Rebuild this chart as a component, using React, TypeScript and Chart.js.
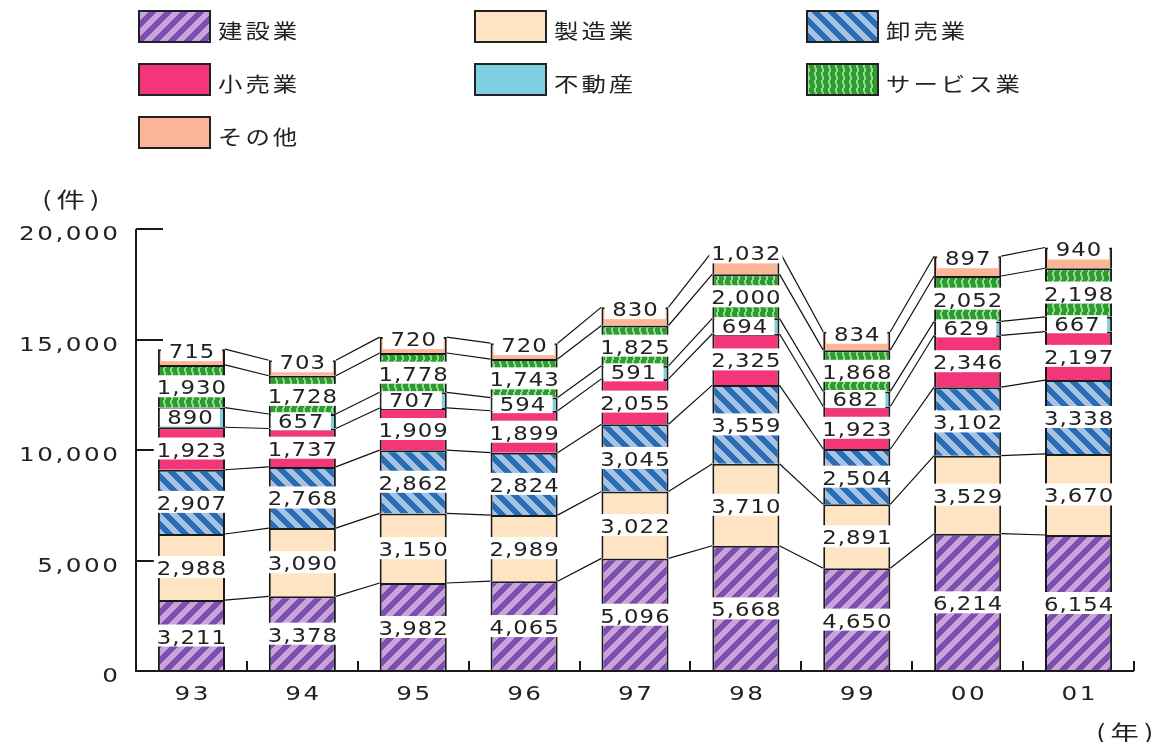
import React, { useEffect, useRef } from "react";
import { Chart, registerables } from "chart.js";
Chart.register(...registerables);

const years = ["93", "94", "95", "96", "97", "98", "99", "00", "01"];
const seriesNames = ["建設業", "製造業", "卸売業", "小売業", "不動産", "サービス業", "その他"];
const construction = [3211, 3378, 3982, 4065, 5096, 5668, 4650, 6214, 6154];
const manufacturing = [2988, 3090, 3150, 2989, 3022, 3710, 2891, 3529, 3670];
const wholesale = [2907, 2768, 2862, 2824, 3045, 3559, 2504, 3102, 3338];
const retail = [1923, 1737, 1909, 1899, 2055, 2325, 1923, 2346, 2197];
const realEstate = [890, 657, 707, 594, 591, 694, 682, 629, 667];
const services = [1930, 1728, 1778, 1743, 1825, 2000, 1868, 2052, 2198];
const others = [715, 703, 720, 720, 830, 1032, 834, 897, 940];
const yTicks = [0, 5000, 10000, 15000, 20000];
const yUnit = "(件)";
const xUnit = "(年)";

const NUM_FONT = "19px 'DejaVu Sans'";
const JP_FONT = "20px 'Noto Sans CJK JP'";
const UNIT_FONT = "21px 'Noto Sans CJK JP'";
const INK = "#222";

function makeTile(w: number, h: number, fn: (x: number, y: number) => string) {
  const c = document.createElement("canvas");
  c.width = w;
  c.height = h;
  const g = c.getContext("2d")!;
  for (let y = 0; y < h; y++) {
    for (let x = 0; x < w; x++) {
      g.fillStyle = fn(x, y);
      g.fillRect(x, y, 1, 1);
    }
  }
  return g.createPattern(c, "repeat")!;
}

function stripes(dark: string, light: string, dir: number) {
  const P = 16;
  return makeTile(P, P, (x, y) => {
    const v = dir > 0 ? (x + y) % P : (((x - y) % P) + P) % P;
    return v < P / 2 ? dark : light;
  });
}

function squiggle(dark: string, light: string) {
  return makeTile(7, 8, (x, y) => {
    const off = y < 4 ? 2 : 3;
    return x === off || x === off + 1 ? light : dark;
  });
}

function measureWide(ctx: CanvasRenderingContext2D, text: string, font: string, sx: number, sp: number) {
  ctx.save();
  ctx.font = font;
  const chars = Array.from(text);
  let t = 0;
  chars.forEach((ch, i) => {
    t += ctx.measureText(ch).width * sx + (i < chars.length - 1 ? sp : 0);
  });
  ctx.restore();
  return t;
}

function drawWide(
  ctx: CanvasRenderingContext2D,
  text: string,
  x: number,
  cy: number,
  font: string,
  sx: number,
  sp: number,
  align: "left" | "center" | "right",
  baseOff: number
) {
  ctx.save();
  ctx.font = font;
  ctx.fillStyle = INK;
  ctx.textBaseline = "alphabetic";
  ctx.textAlign = "left";
  const chars = Array.from(text);
  const ws = chars.map((ch) => ctx.measureText(ch).width * sx);
  const total = ws.reduce((a, b) => a + b, 0) + sp * (chars.length - 1);
  let cx = align === "left" ? x : align === "center" ? x - total / 2 : x - total;
  chars.forEach((ch, i) => {
    ctx.save();
    ctx.translate(cx, cy + baseOff);
    ctx.scale(sx, 1);
    ctx.fillText(ch, 0, 0);
    ctx.restore();
    cx += ws[i] + sp;
  });
  ctx.restore();
  return total;
}

const fmt = (v: number) => v.toLocaleString("en-US");

const decorPlugin = {
  id: "decor",
  beforeDatasetsDraw(chart: any) {
    const ctx: CanvasRenderingContext2D = chart.ctx;
    const y = chart.scales.y;
    const left = chart.chartArea.left;
    ctx.save();
    ctx.strokeStyle = "#1a1a1a";
    ctx.lineWidth = 2;
    yTicks.forEach((t) => {
      const py = Math.round(y.getPixelForValue(t));
      ctx.beginPath();
      ctx.moveTo(left, py);
      ctx.lineTo(left + 27, py);
      ctx.stroke();
    });
    ctx.restore();
  },
  afterDatasetsDraw(chart: any) {
    const ctx: CanvasRenderingContext2D = chart.ctx;
    const ys = chart.scales.y;
    const xs = chart.scales.x;
    const area = chart.chartArea;
    const metas = chart.data.datasets.map((_: any, i: number) => chart.getDatasetMeta(i));

    // connectors
    ctx.save();
    ctx.strokeStyle = "#111";
    ctx.lineWidth = 1.2;
    metas.forEach((m: any) => {
      for (let j = 0; j < m.data.length - 1; j++) {
        const a = m.data[j];
        const b = m.data[j + 1];
        ctx.beginPath();
        ctx.moveTo(a.x + a.width / 2, a.y);
        ctx.lineTo(b.x - b.width / 2, b.y);
        ctx.stroke();
      }
    });
    ctx.restore();

    // value labels
    metas.forEach((m: any, i: number) => {
      const vals = chart.data.datasets[i].data;
      m.data.forEach((el: any, j: number) => {
        const l = el.x - el.width / 2;
        const r = el.x + el.width / 2;
        const top = el.y;
        const bot = el.base;
        const txt = fmt(vals[j]);
        const tw = measureWide(ctx, txt, NUM_FONT, 1.2, 1);
        let bx0: number, bx1: number, by0: number, by1: number, tx: number, ty: number;
        if (i === 6) {
          const w = Math.max(el.width - 6, tw + 4);
          bx0 = el.x - w / 2;
          bx1 = el.x + w / 2;
          by0 = top - 8;
          by1 = top + 12;
          tx = el.x;
          ty = top + 2;
        } else if (i === 4) {
          const mid = (top + bot) / 2;
          bx0 = l + 2;
          bx1 = r - 5;
          by0 = mid - 9;
          by1 = mid + 9;
          tx = (bx0 + bx1) / 2;
          ty = mid;
        } else {
          const mid = (top + bot) / 2;
          const w = Math.max(tw + 6, el.width + 4);
          bx0 = el.x - w / 2;
          bx1 = el.x + w / 2;
          by0 = mid - 11;
          by1 = mid + 11;
          tx = el.x;
          ty = mid + 1;
        }
        ctx.save();
        ctx.fillStyle = "#ffffff";
        ctx.fillRect(bx0, by0, bx1 - bx0, by1 - by0);
        ctx.restore();
        drawWide(ctx, txt, tx, ty, NUM_FONT, 1.2, 1, "center", 7);
      });
    });

    // axes
    ctx.save();
    ctx.strokeStyle = "#1a1a1a";
    ctx.lineWidth = 2;
    ctx.beginPath();
    ctx.moveTo(area.left, Math.round(ys.getPixelForValue(20000)));
    ctx.lineTo(area.left, area.bottom);
    ctx.lineTo(area.right, area.bottom);
    ctx.stroke();
    const cw = (area.right - area.left) / years.length;
    for (let k = 1; k <= years.length; k++) {
      const px = Math.round(area.left + k * cw);
      ctx.beginPath();
      ctx.moveTo(px, area.bottom);
      ctx.lineTo(px, area.bottom - 10);
      ctx.stroke();
    }
    ctx.restore();

    // y tick labels
    yTicks.forEach((t) => {
      const py = ys.getPixelForValue(t);
      drawWide(ctx, fmt(t), 118, py + 4, NUM_FONT, 1.3, 2.5, "right", 7);
    });
    // x labels
    years.forEach((yr, k) => {
      drawWide(ctx, yr, xs.getPixelForValue(k), 693, NUM_FONT, 1.3, 2.5, "center", 7);
    });
    // units
    drawWide(ctx, yUnit, 42, 199, UNIT_FONT, 1.35, 5, "left", 8);
    drawWide(ctx, xUnit, 1096, 732, UNIT_FONT, 1.35, 5, "left", 8);

    // legend
    const colX = [138, 474, 806];
    const rowY = [10, 63, 116];
    chart.data.datasets.forEach((ds: any, i: number) => {
      const cx = colX[i % 3];
      const cy = rowY[Math.floor(i / 3)];
      ctx.save();
      ctx.fillStyle = ds.backgroundColor;
      ctx.fillRect(cx, cy, 73, 33);
      ctx.strokeStyle = "#222";
      ctx.lineWidth = 2;
      ctx.strokeRect(cx + 1, cy + 1, 71, 31);
      ctx.restore();
      drawWide(ctx, ds.label, cx + 80, cy + 16.5 + 4.5, JP_FONT, 1.22, 3, "left", 7.5);
    });
  },
};

export default function App() {
  const ref = useRef<HTMLCanvasElement | null>(null);
  useEffect(() => {
    const canvas = ref.current!;
    const fills = [
      stripes("#7a4fae", "#c9a2da", 1),
      "#ffe4c4",
      stripes("#2a6cb2", "#a6c2e4", -1),
      "#f3367a",
      "#7fcfe2",
      squiggle("#2f9a32", "#8fdc8c"),
      "#fbb597",
    ];
    const series = [construction, manufacturing, wholesale, retail, realEstate, services, others];
    const chart = new Chart(canvas, {
      type: "bar",
      data: {
        labels: years,
        datasets: series.map((d, i) => ({
          label: seriesNames[i],
          data: d,
          backgroundColor: fills[i] as any,
          borderColor: "#1a1a1a",
          borderWidth: { top: 2, left: 2, right: 2, bottom: 0 },
          borderSkipped: false,
          barPercentage: 0.605,
          categoryPercentage: 1,
        })),
      },
      options: {
        responsive: false,
        animation: false,
        events: [],
        devicePixelRatio: 1,
        layout: { padding: { left: 136, right: 19, top: 229, bottom: 71 } },
        scales: {
          x: { stacked: true, display: false },
          y: { stacked: true, display: false, min: 0, max: 20000 },
        },
        plugins: { legend: { display: false }, tooltip: { enabled: false } },
      },
      plugins: [decorPlugin as any],
    });
    return () => chart.destroy();
  }, []);
  return (
    <div style={{ position: "fixed", left: 0, top: 0, width: 1153, height: 742, background: "#fff" }}>
      <canvas ref={ref} width={1153} height={742} style={{ display: "block" }} />
    </div>
  );
}
